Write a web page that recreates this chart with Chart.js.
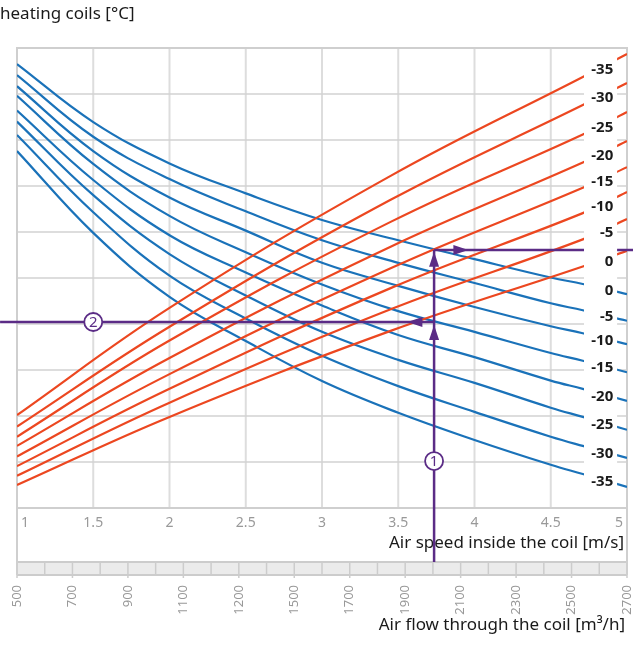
<!DOCTYPE html>
<html><head><meta charset="utf-8">
<script src="https://cdn.jsdelivr.net/npm/chart.js@4/dist/chart.umd.min.js"></script>
<style>html,body{margin:0;padding:0;background:#fff;overflow:hidden}#wrap{position:relative;width:633px;height:648px}</style>
</head><body><div id="wrap"><canvas id="c" width="633" height="648"></canvas></div>
<script>
// ---- data ----
const speedTicks = [1, 1.5, 2, 2.5, 3, 3.5, 4, 4.5, 5];
const speedTickLabels = ['1', '1.5', '2', '2.5', '3', '3.5', '4', '4.5', '5'];
const flowTickLabels = ['500', '700', '900', '1100', '1200', '1500', '1700', '1900', '2100', '2300', '2500', '2700'];
const gridRows = [0, 1, 2, 3, 4, 5, 6, 7, 8, 9, 10];

const blueX = [1, 1.5, 2, 2.5, 3, 3.5, 4, 4.5, 4.71, 5];
const blueLabels = ['0', '-5', '-10', '-15', '-20', '-25', '-30', '-35'];
const blue0   = [9.65, 8.39, 7.49, 6.84, 6.26, 5.82, 5.41, 5.01, 4.87, 4.65];
const blueM5  = [9.41, 8.07, 7.15, 6.45, 5.82, 5.33, 4.89, 4.45, 4.30, 4.07];
const blueM10 = [9.17, 7.76, 6.75, 6.03, 5.33, 4.83, 4.37, 3.95, 3.80, 3.56];
const blueM15 = [8.96, 7.48, 6.35, 5.56, 4.86, 4.28, 3.83, 3.37, 3.20, 2.95];
const blueM20 = [8.64, 7.13, 5.93, 5.12, 4.40, 3.76, 3.28, 2.77, 2.59, 2.33];
const blueM25 = [8.40, 6.80, 5.52, 4.62, 3.83, 3.22, 2.72, 2.18, 1.98, 1.70];
const blueM30 = [8.11, 6.43, 5.05, 4.12, 3.31, 2.65, 2.09, 1.55, 1.35, 1.09];
const blueM35 = [7.76, 5.98, 4.59, 3.63, 2.76, 2.07, 1.48, 0.94, 0.74, 0.46];

const redX = [1, 2, 3.45, 4.71, 5];
const redLabels = ['-35', '-30', '-25', '-20', '-15', '-10', '-5', '0'];
const redM35 = [2.02, 4.35, 7.22, 9.37, 9.87];
const redM30 = [1.77, 3.94, 6.70, 8.76, 9.24];
const redM25 = [1.55, 3.64, 6.22, 8.12, 8.61];
const redM20 = [1.35, 3.26, 5.68, 7.51, 7.98];
const redM15 = [1.12, 2.91, 5.21, 6.96, 7.41];
const redM10 = [0.91, 2.59, 4.78, 6.41, 6.87];
const redM5  = [0.70, 2.29, 4.32, 5.84, 6.28];
const red0   = [0.50, 1.98, 3.85, 5.25, 5.59];

// worked example guide (speed, grid units)
const guideLowerX = [0.889, 3.735], guideLowerY = [4.043, 4.043];
const guideVertX = [3.735, 3.735], guideVertY = [-1.174, 5.609];
const guideUpperX = [3.735, 5.04], guideUpperY = [5.609, 5.609];
const arrowTips = [[3.56, 4.043, 'left'], [3.735, 3.98, 'up'], [3.735, 5.57, 'up'], [3.96, 5.609, 'right']];
const markers = [[1.5, 4.043, '2'], [3.735, 1.02, '1']];

const BLUE = '#1a72b9', RED = '#ec4720', PURPLE = '#5b2c86';
const FONT = '"Noto Sans", sans-serif';

const blueSeries = [blue0, blueM5, blueM10, blueM15, blueM20, blueM25, blueM30, blueM35];
const redSeries = [redM35, redM30, redM25, redM20, redM15, redM10, redM5, red0];
const pts = (xs, ys) => xs.map((x, i) => ({x, y: ys[i]}));

const datasets = [];
const guide = (xs, ys) => ({data: pts(xs, ys), borderColor: PURPLE, borderWidth: 2.5, pointRadius: 0, tension: 0, clip: false});
datasets.push(guide(guideLowerX, guideLowerY), guide(guideVertX, guideVertY), guide(guideUpperX, guideUpperY));
redSeries.forEach(s => datasets.push({data: pts(redX, s), borderColor: RED, borderWidth: 2.2, pointRadius: 0, tension: 0.4}));
blueSeries.forEach(s => datasets.push({data: pts(blueX, s), borderColor: BLUE, borderWidth: 2.2, pointRadius: 0, tension: 0.4}));

function interp(xs, ys, v) {
  for (let i = 0; i < xs.length - 1; i++) {
    if (v >= xs[i] && v <= xs[i + 1]) { const t = (v - xs[i]) / (xs[i + 1] - xs[i]); return ys[i] + t * (ys[i + 1] - ys[i]); }
  }
  return ys[ys.length - 1];
}

const deco = {
  id: 'deco',
  beforeDatasetsDraw(chart) {
    const {ctx, chartArea: a} = chart; const X = chart.scales.x, Y = chart.scales.y;
    const bandTop = a.bottom + 54, bandBot = a.bottom + 67;
    ctx.save();
    // grid
    ctx.strokeStyle = '#dddddd'; ctx.lineWidth = 2;
    speedTicks.forEach(v => { const p = X.getPixelForValue(v); ctx.beginPath(); ctx.moveTo(p, a.top); ctx.lineTo(p, a.bottom); ctx.stroke(); });
    ctx.strokeStyle = '#d2d2d2'; ctx.lineWidth = 1.4;
    gridRows.forEach(g => { const p = Y.getPixelForValue(g); ctx.beginPath(); ctx.moveTo(a.left, p); ctx.lineTo(a.right, p); ctx.stroke(); });
    // band
    ctx.fillStyle = '#ebebeb'; ctx.fillRect(a.left, bandTop, a.right - a.left, bandBot - bandTop);
    ctx.strokeStyle = '#cccccc'; ctx.lineWidth = 1.5;
    for (let j = 0; j <= 22; j++) {
      const p = X.getPixelForValue(1 + j * 4 / 22);
      ctx.beginPath(); ctx.moveTo(p, bandTop); ctx.lineTo(p, j % 2 === 0 ? bandBot + 3 : bandBot); ctx.stroke();
    }
    ctx.lineWidth = 2;
    ctx.beginPath(); ctx.moveTo(a.left, bandTop); ctx.lineTo(a.right, bandTop); ctx.moveTo(a.left, bandBot); ctx.lineTo(a.right, bandBot); ctx.stroke();
    // frame
    ctx.strokeStyle = '#cfcfcf'; ctx.lineWidth = 2;
    ctx.beginPath();
    ctx.moveTo(a.left, a.top); ctx.lineTo(a.right, a.top);
    ctx.moveTo(a.left, a.bottom); ctx.lineTo(a.right, a.bottom);
    ctx.moveTo(a.left, a.top - 1); ctx.lineTo(a.left, bandBot);
    ctx.moveTo(a.right, a.top - 1); ctx.lineTo(a.right, bandBot);
    ctx.stroke();
    // speed tick labels
    ctx.fillStyle = '#999999'; ctx.font = '14px ' + FONT; ctx.textBaseline = 'middle';
    speedTicks.forEach((v, i) => {
      const p = X.getPixelForValue(v);
      if (i === 0) { ctx.textAlign = 'left'; ctx.fillText(speedTickLabels[i], p + 4, a.bottom + 15); }
      else if (i === speedTicks.length - 1) { ctx.textAlign = 'right'; ctx.fillText(speedTickLabels[i], p - 4, a.bottom + 15); }
      else { ctx.textAlign = 'center'; ctx.fillText(speedTickLabels[i], p, a.bottom + 15); }
    });
    // flow labels (rotated)
    ctx.font = '13px ' + FONT;
    flowTickLabels.forEach((t, i) => {
      const p = X.getPixelForValue(1 + i * 4 / 11);
      ctx.save(); ctx.translate(p, bandBot + 10); ctx.rotate(-Math.PI / 2);
      ctx.textAlign = 'right'; ctx.textBaseline = 'middle'; ctx.fillText(t, 0, 0); ctx.restore();
    });
    // titles
    ctx.fillStyle = '#1a1a1a'; ctx.font = '17px ' + FONT; ctx.textBaseline = 'alphabetic';
    ctx.textAlign = 'right'; ctx.fillText('Air speed inside the coil [m/s]', a.right - 3, a.bottom + 40);
    ctx.fillText('Air flow through the coil [m³/h]', a.right - 2, 630);
    ctx.textAlign = 'left'; ctx.fillText('heating coils [°C]', 0, 19);
    ctx.restore();
  },
  afterDatasetsDraw(chart) {
    const {ctx, chartArea: a} = chart; const X = chart.scales.x, Y = chart.scales.y;
    ctx.save();
    // white label column
    const c0 = X.getPixelForValue(4.718), c1 = X.getPixelForValue(4.935);
    ctx.fillStyle = '#ffffff'; ctx.fillRect(c0, a.top + 1.2, c1 - c0, a.bottom - a.top - 2.4);
    // curve labels
    ctx.fillStyle = '#1a1a1a'; ctx.font = 'bold 15px ' + FONT; ctx.textAlign = 'right'; ctx.textBaseline = 'middle';
    const lx = X.getPixelForValue(4.91);
    redSeries.forEach((s, i) => ctx.fillText(redLabels[i], lx, Y.getPixelForValue(interp(redX, s, 4.82)) + 1.5));
    blueSeries.forEach((s, i) => ctx.fillText(blueLabels[i], lx, Y.getPixelForValue(interp(blueX, s, 4.82)) + 3));
    // arrows
    ctx.fillStyle = PURPLE;
    arrowTips.forEach(([vx, vy, d]) => {
      const x = X.getPixelForValue(vx), y = Y.getPixelForValue(vy), L = 15, W = 5;
      ctx.beginPath(); ctx.moveTo(x, y);
      if (d === 'left') { ctx.lineTo(x + L, y - W); ctx.lineTo(x + L, y + W); }
      if (d === 'right') { ctx.lineTo(x - L, y - W); ctx.lineTo(x - L, y + W); }
      if (d === 'up') { ctx.lineTo(x - W, y + L); ctx.lineTo(x + W, y + L); }
      ctx.closePath(); ctx.fill();
    });
    // circled markers
    markers.forEach(([vx, vy, t]) => {
      const x = X.getPixelForValue(vx), y = Y.getPixelForValue(vy);
      ctx.beginPath(); ctx.arc(x, y, 9, 0, Math.PI * 2); ctx.fillStyle = '#fff'; ctx.fill();
      ctx.strokeStyle = PURPLE; ctx.lineWidth = 1.8; ctx.stroke();
      ctx.fillStyle = PURPLE; ctx.font = '15px ' + FONT; ctx.textAlign = 'center'; ctx.textBaseline = 'middle';
      ctx.fillText(t, x, y + 0.5);
    });
    ctx.restore();
  }
};

new Chart(document.getElementById('c'), {
  type: 'line',
  data: {datasets},
  options: {
    responsive: false, animation: false, devicePixelRatio: 1,
    layout: {padding: {left: 17, right: 6, top: 48, bottom: 140}},
    plugins: {legend: {display: false}, tooltip: {enabled: false}},
    scales: {
      x: {type: 'linear', min: 1, max: 5, display: false},
      y: {type: 'linear', min: 0, max: 10, display: false}
    }
  },
  plugins: [deco]
});
</script></body></html>
